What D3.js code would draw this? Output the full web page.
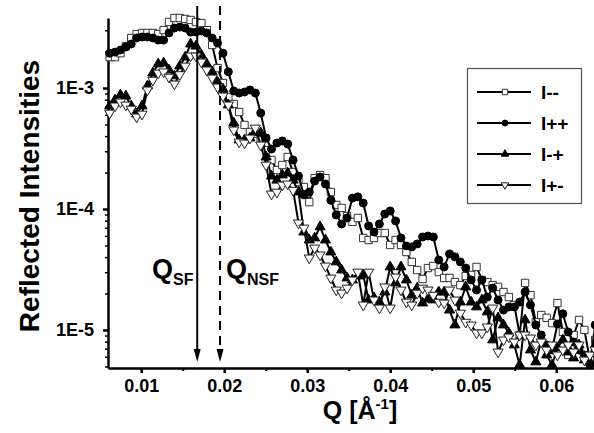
<!DOCTYPE html>
<html>
<head>
<meta charset="utf-8">
<script src="https://cdn.jsdelivr.net/npm/d3@7"></script>
<style>
  html, body { margin: 0; padding: 0; background: #fff; }
  svg { display: block; font-family: "Liberation Sans", Arial, sans-serif; }
</style>
</head>
<body>
<svg id="chart" width="594" height="433"></svg>
<script>
// ---- data ----
const Q = [0.00620,0.00685,0.00750,0.00815,0.00880,0.00945,0.01010,0.01075,0.01140,0.01205,
0.01270,0.01335,0.01400,0.01465,0.01530,0.01595,0.01660,0.01725,0.01790,0.01855,
0.01920,0.01985,0.02050,0.02115,0.02180,0.02245,0.02310,0.02375,0.02440,0.02505,
0.02570,0.02635,0.02700,0.02765,0.02830,0.02895,0.02960,0.03025,0.03090,0.03155,
0.03220,0.03285,0.03350,0.03415,0.03480,0.03545,0.03610,0.03675,0.03740,0.03805,
0.03870,0.03935,0.04000,0.04065,0.04130,0.04195,0.04260,0.04325,0.04390,0.04455,
0.04520,0.04585,0.04650,0.04715,0.04780,0.04845,0.04910,0.04975,0.05040,0.05105,
0.05170,0.05235,0.05300,0.05365,0.05430,0.05495,0.05560,0.05625,0.05690,0.05755,
0.05820,0.05885,0.05950,0.06015,0.06080,0.06145,0.06210,0.06275,0.06340,0.06405,
0.06470];

const I_mm = [1.80e-3,1.80e-3,1.94e-3,2.22e-3,2.59e-3,2.79e-3,2.85e-3,2.85e-3,2.85e-3,2.79e-3,
3.01e-3,3.51e-3,3.79e-3,3.79e-3,3.72e-3,3.65e-3,3.51e-3,3.44e-3,3.01e-3,2.27e-3,
1.46e-3,1.10e-3,8.43e-4,7.38e-4,6.33e-4,4.95e-4,4.33e-4,4.17e-4,3.72e-4,3.07e-4,
2.54e-4,2.10e-4,2.31e-4,2.69e-4,2.02e-4,1.67e-4,1.52e-4,1.14e-4,1.80e-4,1.91e-4,
1.80e-4,1.38e-4,1.08e-4,1.02e-4,8.75e-5,7.82e-5,8.43e-5,5.76e-5,5.54e-5,5.76e-5,
6.33e-5,6.33e-5,5.04e-5,5.54e-5,5.04e-5,4.41e-5,3.65e-5,3.13e-5,2.64e-5,3.25e-5,
3.38e-5,3.01e-5,2.69e-5,2.69e-5,2.49e-5,2.35e-5,2.79e-5,2.85e-5,3.32e-5,2.59e-5,
2.49e-5,2.35e-5,2.27e-5,2.06e-5,1.87e-5,1.61e-5,9.09e-6,2.45e-5,1.94e-5,1.16e-5,
1.33e-5,1.26e-5,1.14e-5,1.67e-5,9.63e-6,6.21e-6,9.09e-6,1.21e-5,1.00e-5,5.65e-6,
8.27e-6];

const I_pp = [1.94e-3,1.98e-3,2.06e-3,2.18e-3,2.31e-3,2.59e-3,2.64e-3,2.64e-3,2.59e-3,2.49e-3,
2.49e-3,2.85e-3,3.13e-3,3.19e-3,3.13e-3,2.90e-3,2.90e-3,2.96e-3,2.85e-3,2.59e-3,
2.35e-3,1.94e-3,1.36e-3,9.45e-4,9.09e-4,9.27e-4,9.63e-4,9.09e-4,6.21e-4,3.86e-4,
3.13e-4,3.51e-4,3.65e-4,3.44e-4,2.54e-4,1.87e-4,1.31e-4,1.38e-4,1.70e-4,1.84e-4,
1.61e-4,1.18e-4,8.92e-5,7.52e-5,8.43e-5,1.23e-4,1.26e-4,1.12e-4,7.24e-5,6.45e-5,
7.52e-5,9.09e-5,9.63e-5,7.96e-5,5.76e-5,4.95e-5,4.86e-5,5.14e-5,5.87e-5,5.98e-5,
5.87e-5,3.79e-5,3.32e-5,4.25e-5,4.02e-5,3.65e-5,3.25e-5,2.59e-5,2.14e-5,2.59e-5,
1.87e-5,2.22e-5,1.77e-5,1.46e-5,1.55e-5,1.55e-5,1.70e-5,2.06e-5,1.61e-5,1.10e-5,
9.09e-6,7.52e-6,6.83e-6,1.12e-5,1.36e-5,9.63e-6,7.96e-6,6.83e-6,6.21e-6,5.14e-6,
1.10e-5];

const I_mp = [7.11e-4,7.96e-4,8.75e-4,8.59e-4,7.11e-4,6.09e-4,7.11e-4,1.04e-3,1.33e-3,1.58e-3,
1.61e-3,1.41e-3,1.26e-3,1.52e-3,1.80e-3,2.31e-3,2.22e-3,1.87e-3,1.58e-3,1.36e-3,
1.12e-3,9.81e-4,7.24e-4,5.14e-4,3.72e-4,3.72e-4,3.86e-4,4.33e-4,4.25e-4,2.69e-4,
1.87e-4,1.73e-4,1.91e-4,1.98e-4,1.73e-4,1.38e-4,6.45e-5,5.54e-5,5.76e-5,7.11e-5,
5.54e-5,4.41e-5,3.65e-5,3.13e-5,2.69e-5,2.59e-5,2.79e-5,2.85e-5,1.77e-5,1.84e-5,
1.70e-5,2.06e-5,3.32e-5,2.45e-5,3.32e-5,2.59e-5,1.94e-5,2.22e-5,1.67e-5,1.80e-5,
1.77e-5,2.06e-5,2.06e-5,1.46e-5,1.10e-5,1.70e-5,2.27e-5,1.70e-5,1.55e-5,1.77e-5,
1.41e-5,8.27e-6,1.26e-5,1.10e-5,9.45e-6,7.52e-6,5.14e-6,1.21e-5,6.83e-6,5.44e-6,
8.27e-6,6.21e-6,5.14e-6,7.11e-6,8.27e-6,6.58e-6,5.87e-6,7.52e-6,5.65e-6,5.44e-6,
7.52e-6];

const I_pm = [6.21e-4,7.11e-4,7.67e-4,7.24e-4,6.70e-4,5.76e-4,6.09e-4,9.63e-4,1.16e-3,1.33e-3,
1.36e-3,1.23e-3,1.08e-3,1.29e-3,1.52e-3,1.84e-3,1.84e-3,1.64e-3,1.41e-3,1.21e-3,
1.02e-3,8.59e-4,7.24e-4,4.50e-4,3.58e-4,3.51e-4,3.86e-4,4.67e-4,3.38e-4,2.31e-4,
1.33e-4,1.38e-4,1.58e-4,1.61e-4,1.43e-4,7.67e-5,6.96e-5,3.94e-5,4.76e-5,4.17e-5,
3.38e-5,2.69e-5,2.14e-5,2.02e-5,2.22e-5,2.59e-5,3.01e-5,1.61e-5,3.01e-5,1.77e-5,
1.52e-5,2.27e-5,1.52e-5,2.74e-5,2.14e-5,1.70e-5,1.61e-5,2.02e-5,2.22e-5,2.14e-5,
1.94e-5,1.70e-5,1.67e-5,2.14e-5,1.77e-5,1.38e-5,1.16e-5,1.10e-5,9.45e-6,9.45e-6,
1.06e-5,1.52e-5,6.58e-6,8.27e-6,8.75e-6,7.96e-6,9.09e-6,9.09e-6,8.59e-6,7.52e-6,
7.96e-6,6.83e-6,7.52e-6,6.21e-6,6.83e-6,7.52e-6,6.58e-6,7.52e-6,5.65e-6,6.21e-6,
6.83e-6];

const seriesNames = ["I--", "I++", "I-+", "I+-"];
const yTickValues = [1e-5, 1e-4, 1e-3];
const xTickValues = [0.01, 0.02, 0.03, 0.04, 0.05, 0.06];
const xMinorTicks = [0.015, 0.025, 0.035, 0.045, 0.055, 0.065];
const qSF = 0.01675;
const qNSF = 0.0195;

// ---- layout ----
const svg = d3.select("#chart");
const x = d3.scaleLinear().domain([0.006, 0.065]).range([108, 597.7]);
const y = d3.scaleLog().domain([4.85e-6, 3.79e-3]).range([368, 18]);

// minor y ticks
const yMinor = [];
for (let e = -6; e <= -3; e++) for (let m = 2; m <= 9; m++) {
  const v = m * Math.pow(10, e);
  if (v > 4.85e-6 && v < 3.79e-3) yMinor.push(v);
}

const axisFont = 'bold 18px "Liberation Sans", Arial, sans-serif';

// y minor
svg.append("g").attr("transform", "translate(108,0)")
  .call(d3.axisLeft(y).tickValues(yMinor).tickSize(3).tickSizeOuter(0).tickFormat(""))
  .call(g => g.select(".domain").remove())
  .call(g => g.selectAll("line").attr("stroke", "#000").attr("stroke-width", 1.5));

// y major
svg.append("g").attr("transform", "translate(108,0)")
  .call(d3.axisLeft(y).tickValues(yTickValues).tickSize(5).tickSizeOuter(0)
    .tickFormat(d => "1E" + Math.round(Math.log10(d))))
  .call(g => g.select(".domain").attr("stroke", "#000").attr("stroke-width", 2.5))
  .call(g => g.selectAll("line").attr("stroke", "#000").attr("stroke-width", 2.5))
  .call(g => g.selectAll("text").style("font", axisFont).attr("fill", "#000").attr("x", -14));

// x minor
svg.append("g").attr("transform", "translate(0,368)")
  .call(d3.axisBottom(x).tickValues(xMinorTicks).tickSize(3).tickSizeOuter(0).tickFormat(""))
  .call(g => g.select(".domain").remove())
  .call(g => g.selectAll("line").attr("stroke", "#000").attr("stroke-width", 2));

// x major
svg.append("g").attr("transform", "translate(0,368)")
  .call(d3.axisBottom(x).tickValues(xTickValues).tickSize(5).tickSizeOuter(0)
    .tickFormat(d3.format(".2f")))
  .call(g => g.select(".domain").attr("stroke", "#000").attr("stroke-width", 2.5))
  .call(g => g.selectAll("line").attr("stroke", "#000").attr("stroke-width", 2.5))
  .call(g => g.selectAll("text").style("font", axisFont).attr("fill", "#000").attr("y", 11));

// axis titles
svg.append("text")
  .attr("transform", "translate(39,196) rotate(-90)")
  .attr("text-anchor", "middle")
  .style("font", 'bold 28px "Liberation Sans", Arial, sans-serif')
  .text("Reflected Intensities");

const xt = svg.append("text")
  .attr("x", 360).attr("y", 419)
  .attr("text-anchor", "middle")
  .style("font", 'bold 25px "Liberation Sans", Arial, sans-serif');
xt.append("tspan").text("Q [Å");
xt.append("tspan").attr("dy", -10).style("font-size", "15px").text("-1");
xt.append("tspan").attr("dy", 10).text("]");

// ---- series ----
const series = [
  { name: seriesNames[0], vals: I_mm, type: d3.symbolSquare, size: 54, fill: "#fff", stroke: "#333", rot: 0 },
  { name: seriesNames[1], vals: I_pp, type: d3.symbolCircle, size: 50, fill: "#000", stroke: "#000", rot: 0 },
  { name: seriesNames[2], vals: I_mp, type: d3.symbolTriangle, size: 44, fill: "#000", stroke: "#000", rot: 0 },
  { name: seriesNames[3], vals: I_pm, type: d3.symbolTriangle, size: 44, fill: "#fff", stroke: "#222", rot: 180 }
];

const line = d3.line().x(d => x(d[0])).y(d => y(d[1]));

series.forEach(s => {
  const pts = Q.map((q, i) => [q, s.vals[i]]);
  const g = svg.append("g");
  g.append("path").datum(pts).attr("d", line)
    .attr("fill", "none").attr("stroke", "#000").attr("stroke-width", 2).attr("stroke-linejoin", "round");
  const sym = d3.symbol().type(s.type).size(s.size);
  g.selectAll("path.m").data(pts).join("path").attr("class", "m")
    .attr("d", sym)
    .attr("transform", d => `translate(${x(d[0])},${y(d[1])}) rotate(${s.rot})`)
    .attr("fill", s.fill).attr("stroke", s.stroke).attr("stroke-width", 1);
});

// ---- Q_SF / Q_NSF arrows ----
function arrow(q, dashed) {
  const xx = x(q);
  svg.append("line").attr("x1", xx).attr("x2", xx).attr("y1", 6).attr("y2", 351)
    .attr("stroke", "#000").attr("stroke-width", 2)
    .attr("stroke-dasharray", dashed ? "9,6" : null);
  svg.append("path")
    .attr("d", `M${xx - 3.5},349 L${xx + 3.5},349 L${xx},362 Z`)
    .attr("fill", "#000");
}
arrow(qSF, false);
arrow(qNSF, true);

function qLabel(xPos, sub) {
  const t = svg.append("text").attr("x", xPos).attr("y", 278)
    .style("font", 'bold 27px "Liberation Sans", Arial, sans-serif');
  t.append("tspan").text("Q");
  t.append("tspan").attr("dy", 7).style("font-size", "16px").text(sub);
}
qLabel(152, "SF");
qLabel(226, "NSF");

// ---- legend ----
const lg = svg.append("g");
lg.append("rect").attr("x", 467.5).attr("y", 68.5).attr("width", 114).attr("height", 135)
  .attr("fill", "#fff").attr("stroke", "#555").attr("stroke-width", 1.2);
series.forEach((s, i) => {
  const yy = 92 + i * 31;
  lg.append("line").attr("x1", 477).attr("x2", 531).attr("y1", yy).attr("y2", yy)
    .attr("stroke", "#000").attr("stroke-width", 1.8);
  lg.append("path").attr("d", d3.symbol().type(s.type).size(s.size * 0.55))
    .attr("transform", `translate(505,${yy}) rotate(${s.rot})`)
    .attr("fill", s.fill).attr("stroke", s.stroke).attr("stroke-width", 1);
  lg.append("text").attr("x", 541).attr("y", yy + 7)
    .style("font", 'bold 19px "Liberation Sans", Arial, sans-serif')
    .text(s.name);
});
</script>
</body>
</html>
